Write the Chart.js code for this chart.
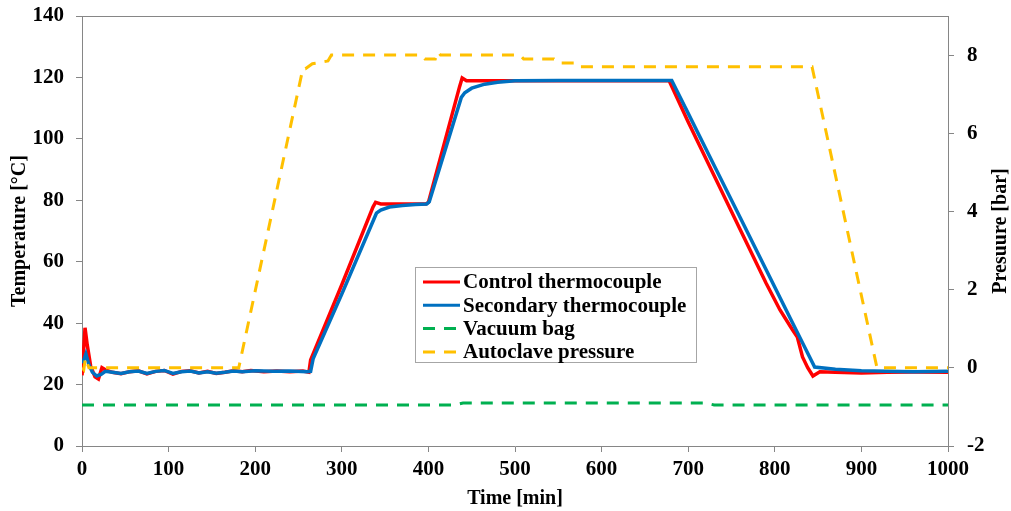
<!DOCTYPE html>
<html>
<head>
<meta charset="utf-8">
<script src="https://cdn.jsdelivr.net/npm/chart.js@4"></script>
<style>
  body { margin: 0; background: #fff; }
</style>
</head>
<body>
<canvas id="myChart" width="1011" height="511"></canvas>
<script>
// Control thermocouple (red), time [min] / temperature [°C]
const controlTime = [0, 1, 3.5, 6, 10, 15, 19, 23, 27, 35,
  45, 55, 65, 75, 85, 95, 105, 115, 125, 135,
  145, 155, 165, 175, 185, 195, 210, 225, 240, 255,
  262, 264, 300, 336, 339, 345, 370, 397, 400, 436,
  439, 444, 480, 550, 620, 678, 700, 730, 760, 790,
  806, 820, 826, 832, 838, 844, 852, 870, 900, 930,
  960, 1000];
const controlTemp = [23, 23, 38.5, 33, 26, 22.5, 21.8, 25.5, 24.8, 24,
  23.5, 24.2, 24.5, 23.5, 24.3, 24.6, 23.4, 24.3, 24.5, 23.8,
  24.3, 23.6, 24, 24.5, 24.2, 24.6, 24.2, 24.4, 24.2, 24.4,
  24, 28, 52.5, 77.8, 79.3, 78.8, 78.8, 78.8, 79.3, 117,
  119.8, 118.9, 118.9, 118.9, 118.9, 118.9, 105.5, 88, 70.5, 53,
  44.3, 38, 35.5, 29, 25.5, 22.8, 24.2, 24, 23.8, 24,
  24.1, 24];

// Secondary thermocouple (blue)
const secondaryTime = [0, 2, 4.5, 8, 12, 17, 22, 27, 35, 45,
  55, 65, 75, 85, 95, 105, 115, 125, 135, 145,
  155, 165, 175, 185, 200, 220, 240, 260, 264, 267,
  300, 340, 345, 355, 370, 385, 398, 401, 438, 442,
  450, 465, 480, 500, 550, 620, 681, 700, 730, 760,
  790, 820, 835, 846, 870, 900, 930, 960, 1000];
const secondaryTemp = [27, 28, 30, 26.5, 24, 22.8, 23.3, 24.3, 24, 23.6,
  24.2, 24.4, 23.6, 24.3, 24.6, 23.6, 24.2, 24.4, 23.8, 24.2,
  23.7, 24, 24.4, 24.2, 24.5, 24.3, 24.4, 24.2, 24.3, 28.5,
  49.5, 75.8, 76.8, 77.8, 78.3, 78.6, 78.8, 79.5, 113.5, 115,
  116.5, 117.8, 118.4, 118.9, 119, 119, 119, 108.3, 91.3, 74.4,
  57.4, 40.4, 31.9, 25.7, 25, 24.5, 24.3, 24.2, 24.3];

// Vacuum bag, pressure [bar]
const vacuumTime = [0, 430, 440, 720, 730, 1000];
const vacuumPres = [-0.95, -0.95, -0.9, -0.9, -0.95, -0.95];

// Autoclave pressure [bar]
const autoclaveTime = [0, 2, 4, 8, 181, 255, 258, 266, 272, 284,
  288, 392, 396, 408, 411, 414, 506, 510, 545, 550,
  568, 572, 843, 918, 1000];
const autoclavePres = [0, -0.05, 0.25, 0, 0, 7.65, 7.65, 7.78, 7.8, 7.85,
  8.0, 8.0, 7.9, 7.9, 8.08, 8.0, 8.0, 7.9, 7.9, 7.8,
  7.8, 7.7, 7.7, 0, 0];

const timeTicks = [0, 100, 200, 300, 400, 500, 600, 700, 800, 900, 1000];
const tempTicks = [0, 20, 40, 60, 80, 100, 120, 140];
const presTicks = [-2, 0, 2, 4, 6, 8];

const toPoints = (xs, ys) => xs.map((x, i) => ({ x: x, y: ys[i] }));

const FONT = "'Liberation Serif', 'Times New Roman', serif";
const AXIS_GREY = '#868686';
const tickFont = { family: FONT, size: 21, weight: 'bold' };
const titleFont = { family: FONT, size: 20, weight: 'bold' };

// fixed axis sizes so the plot area sits where the original has it
const fitVertical = w => scale => {
  scale.width = w;
  scale.paddingTop = 0;
  scale.paddingBottom = 0;
};

// draws top border, right axis title (reading upward) and the boxed legend
const extrasPlugin = {
  id: 'extras',
  afterDraw(chart) {
    const ctx = chart.ctx;
    const area = chart.chartArea;
    ctx.save();

    // top frame line
    ctx.strokeStyle = AXIS_GREY;
    ctx.lineWidth = 1;
    ctx.beginPath();
    ctx.moveTo(area.left, area.top + 0.5);
    ctx.lineTo(area.right, area.top + 0.5);
    ctx.stroke();

    // right axis title
    ctx.fillStyle = '#000';
    ctx.font = 'bold 20px ' + FONT;
    ctx.textAlign = 'center';
    ctx.textBaseline = 'middle';
    ctx.translate(1001, (area.top + area.bottom) / 2);
    ctx.rotate(-Math.PI / 2);
    ctx.fillText('Presuure [bar]', 0, 0);
    ctx.restore();

    // legend
    ctx.save();
    const bx = area.left + 333;
    const by = area.top + 251;
    const bw = 281;
    const bh = 95;
    ctx.fillStyle = '#fff';
    ctx.fillRect(bx, by, bw, bh);
    ctx.strokeStyle = '#a6a6a6';
    ctx.lineWidth = 1;
    ctx.strokeRect(bx + 0.5, by + 0.5, bw, bh);
    ctx.font = 'bold 21px ' + FONT;
    ctx.textAlign = 'left';
    ctx.textBaseline = 'middle';
    chart.data.datasets.forEach((ds, i) => {
      const yy = by + 15 + i * 23.3;
      ctx.strokeStyle = ds.borderColor;
      ctx.lineWidth = 3;
      ctx.setLineDash(ds.borderDash || []);
      ctx.beginPath();
      ctx.moveTo(bx + 8, yy);
      ctx.lineTo(bx + 45, yy);
      ctx.stroke();
      ctx.setLineDash([]);
      ctx.fillStyle = '#000';
      ctx.fillText(ds.label, bx + 48, yy + 1);
    });
    ctx.restore();
  }
};

const ctx = document.getElementById('myChart').getContext('2d');
const myChart = new Chart(ctx, {
  type: 'line',
  data: {
    datasets: [
      {
        label: 'Control thermocouple',
        data: toPoints(controlTime, controlTemp),
        borderColor: '#ff0000',
        borderWidth: 3.5,
        yAxisID: 'y',
        order: 3
      },
      {
        label: 'Secondary thermocouple',
        data: toPoints(secondaryTime, secondaryTemp),
        borderColor: '#0070c0',
        borderWidth: 3.5,
        yAxisID: 'y',
        order: 2
      },
      {
        label: 'Vacuum bag',
        data: toPoints(vacuumTime, vacuumPres),
        borderColor: '#00b050',
        borderWidth: 3,
        borderDash: [12, 9],
        yAxisID: 'y1',
        order: 1
      },
      {
        label: 'Autoclave pressure',
        data: toPoints(autoclaveTime, autoclavePres),
        borderColor: '#ffc000',
        borderWidth: 3,
        borderDash: [12, 9],
        yAxisID: 'y1',
        order: 0
      }
    ]
  },
  options: {
    responsive: false,
    animation: false,
    layout: { padding: { top: 16, left: 0, right: 0, bottom: 0 } },
    elements: {
      point: { radius: 0 },
      line: { tension: 0, fill: false, borderCapStyle: 'butt' }
    },
    scales: {
      x: {
        type: 'linear',
        min: 0,
        max: 1000,
        afterBuildTicks: scale => { scale.ticks = timeTicks.map(v => ({ value: v })); },
        afterFit: scale => {
          scale.height = 65;
          scale.paddingLeft = 0;
          scale.paddingRight = 0;
        },
        grid: { drawOnChartArea: false, drawTicks: true, tickLength: 6, tickColor: AXIS_GREY },
        border: { display: true, color: AXIS_GREY, width: 1 },
        ticks: {
          autoSkip: false,
          maxRotation: 0,
          padding: 5,
          color: '#000',
          font: tickFont,
          callback: v => String(v)
        },
        title: {
          display: true,
          text: 'Time [min]',
          color: '#000',
          padding: { top: 4, bottom: 0 },
          font: titleFont
        }
      },
      y: {
        position: 'left',
        min: 0,
        max: 140,
        afterBuildTicks: scale => { scale.ticks = tempTicks.map(v => ({ value: v })); },
        afterFit: fitVertical(82),
        grid: { drawOnChartArea: false, drawTicks: true, tickLength: 6, tickColor: AXIS_GREY },
        border: { display: true, color: AXIS_GREY, width: 1 },
        ticks: {
          padding: 12,
          color: '#000',
          font: tickFont,
          callback: v => String(v)
        },
        title: {
          display: true,
          text: 'Temperature [°C]',
          color: '#000',
          padding: { top: 8, bottom: 0 },
          font: titleFont
        }
      },
      y1: {
        position: 'right',
        min: -2,
        max: 9,
        afterBuildTicks: scale => { scale.ticks = presTicks.map(v => ({ value: v })); },
        afterFit: fitVertical(63),
        grid: { drawOnChartArea: false, drawTicks: true, tickLength: 6, tickColor: AXIS_GREY },
        border: { display: true, color: AXIS_GREY, width: 1 },
        ticks: {
          padding: 13,
          color: '#000',
          font: tickFont,
          callback: v => String(v)
        }
      }
    },
    plugins: {
      legend: { display: false },
      tooltip: { enabled: false }
    }
  },
  plugins: [extrasPlugin]
});
</script>
</body>
</html>
